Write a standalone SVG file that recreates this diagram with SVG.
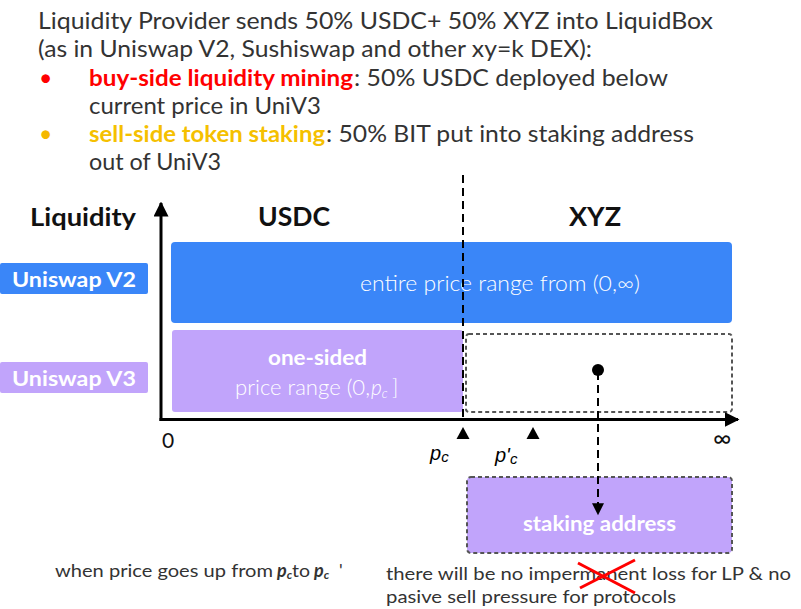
<svg xmlns="http://www.w3.org/2000/svg" width="801" height="609" viewBox="0 0 801 609">
<defs>
<style>
.t{font-family:Lato,"Open Sans","Liberation Sans",sans-serif;fill:#333;}
.l{font-weight:300;}
.h{font-size:23px;}
.b{font-weight:bold;}
.ax{stroke:#000;stroke-width:3;fill:none;}
.ar{font-family:"Liberation Sans",Arial,sans-serif;font-style:italic;fill:#000;}
.dash{stroke:#000;stroke-width:2;stroke-dasharray:8,5;fill:none;}
</style>
<marker id="ah" viewBox="0 0 10 10" refX="9" refY="5" markerWidth="5" markerHeight="5" orient="auto" markerUnits="strokeWidth"><path d="M0,0 L10,5 L0,10 z" fill="#000"/></marker>
<marker id="ah2" viewBox="0 0 10 10" refX="9" refY="5" markerWidth="7" markerHeight="6" orient="auto" markerUnits="strokeWidth"><path d="M0,0 L10,5 L0,10 z" fill="#000"/></marker>
</defs>
<rect width="801" height="609" fill="#fff"/>

<g id="header">
<text class="t h" x="38" y="29" textLength="675" lengthAdjust="spacingAndGlyphs">Liquidity Provider sends 50% USDC+ 50% XYZ into LiquidBox</text>
<text class="t h" x="38" y="57" textLength="554" lengthAdjust="spacingAndGlyphs">(as in Uniswap V2, Sushiswap and other xy=k DEX):</text>
<text class="t h" x="39" y="86" style="fill:#f00">•</text>
<text class="t b h" x="89" y="86" style="fill:#f00" textLength="264" lengthAdjust="spacingAndGlyphs">buy-side liquidity mining</text>
<text class="t h" x="354" y="86" textLength="314" lengthAdjust="spacingAndGlyphs">: 50% USDC deployed below</text>
<text class="t h" x="89" y="114" textLength="232" lengthAdjust="spacingAndGlyphs">current price in UniV3</text>
<text class="t h" x="39" y="142" style="fill:#f5b800">•</text>
<text class="t b h" x="89" y="142" style="fill:#f5c000" textLength="236" lengthAdjust="spacingAndGlyphs">sell-side token staking</text>
<text class="t h" x="326" y="142" textLength="368" lengthAdjust="spacingAndGlyphs">: 50% BIT put into staking address</text>
<text class="t h" x="89" y="170" textLength="132" lengthAdjust="spacingAndGlyphs">out of UniV3</text>
</g>

<g id="axis-labels">
<text class="t b" x="30" y="226" font-size="24" style="fill:#111" textLength="106" lengthAdjust="spacingAndGlyphs">Liquidity</text>
<text class="t b" x="258" y="226" font-size="26" style="fill:#111" textLength="72" lengthAdjust="spacingAndGlyphs">USDC</text>
<text class="t b" x="569" y="226" font-size="26" style="fill:#111" textLength="52" lengthAdjust="spacingAndGlyphs">XYZ</text>
<text class="t" x="162" y="448" font-size="21" style="fill:#111">0</text>
<text class="t" x="713" y="447" font-size="25" style="fill:#111">∞</text>
<text class="ar" x="430" y="460" font-size="20">p<tspan font-size="15" dy="2">c</tspan></text>
<text class="ar" x="495" y="462" font-size="20">p'<tspan font-size="15" dy="2">c</tspan></text>
</g>

<g id="uniswap-v2-label">
<rect x="0" y="263" width="148" height="31" rx="2" fill="#3a86f8"/>
<text class="t b" x="12" y="287" font-size="21" style="fill:#fff" textLength="124" lengthAdjust="spacingAndGlyphs">Uniswap V2</text>
</g>
<g id="uniswap-v3-label">
<rect x="0" y="362" width="148" height="31" rx="2" fill="#c1a4fb"/>
<text class="t b" x="12" y="386" font-size="21" style="fill:#fff" textLength="124" lengthAdjust="spacingAndGlyphs">Uniswap V3</text>
</g>

<g id="v2-range">
<rect x="171" y="242" width="561" height="81" rx="4" fill="#3a86f8"/>
<text class="t l" x="360" y="291" font-size="21" style="fill:#fff" textLength="280" lengthAdjust="spacingAndGlyphs">entire price range from (0,∞)</text>
</g>

<g id="v3-range">
<rect x="172" y="330" width="291" height="82" rx="3" fill="#c1a4fb"/>
<text class="t b" x="268" y="365" font-size="21" style="fill:#fff" textLength="99" lengthAdjust="spacingAndGlyphs">one-sided</text>
<text class="t l" x="235" y="395" font-size="21" style="fill:#fff"><tspan textLength="135" lengthAdjust="spacingAndGlyphs">price range (0,</tspan><tspan x="371" font-style="italic">p</tspan><tspan font-size="13" dy="3" font-style="italic">c</tspan><tspan x="392" dy="-3">]</tspan></text>
</g>

<g id="empty-range">
<rect x="466" y="334" width="266" height="78" rx="3" fill="none" stroke="#555" stroke-width="2" stroke-dasharray="4,3"/>
</g>

<g id="staking-address">
<rect x="467" y="477" width="265" height="76" rx="4" fill="#c1a4fb" stroke="#555" stroke-width="2" stroke-dasharray="4,3"/>
<text class="t b" x="523" y="531" font-size="21" style="fill:#fff" textLength="153" lengthAdjust="spacingAndGlyphs">staking address</text>
</g>

<g id="notes">
<text class="t" x="55" y="577" font-size="18"><tspan textLength="218" lengthAdjust="spacingAndGlyphs">when price goes up from</tspan><tspan x="277" class="b" font-style="italic">p</tspan><tspan class="b" font-style="italic" font-size="12" dy="2">c</tspan><tspan x="292" dy="-2" textLength="18" lengthAdjust="spacingAndGlyphs">to</tspan><tspan x="314" class="b" font-style="italic">p</tspan><tspan class="b" font-style="italic" font-size="12" dy="2">c</tspan><tspan x="339" dy="-2">'</tspan></text>
<text class="t" x="386" y="580" font-size="18" textLength="405" lengthAdjust="spacingAndGlyphs">there will be no impermanent loss for LP &amp; no</text>
<text class="t" x="386" y="603" font-size="18" textLength="290" lengthAdjust="spacingAndGlyphs">pasive sell pressure for protocols</text>
<path d="M578,563 L635,593 M635,560 L580,588" stroke="#f00" stroke-width="3" fill="none"/>
</g>

<g id="connectors">
<line class="ax" x1="161" y1="421" x2="161" y2="203" marker-end="url(#ah)"/>
<line class="ax" x1="159.5" y1="419.5" x2="738" y2="419.5" marker-end="url(#ah)"/>
<line class="dash" x1="463" y1="175" x2="463" y2="419"/>
<line class="dash" x1="598" y1="372" x2="598" y2="514" marker-end="url(#ah2)"/>
<circle cx="598" cy="370" r="6" fill="#000"/>
<path d="M463,427 L469.5,439 L456.5,439 z" fill="#000"/>
<path d="M533,427 L539.5,439 L526.5,439 z" fill="#000"/>
</g>
</svg>
